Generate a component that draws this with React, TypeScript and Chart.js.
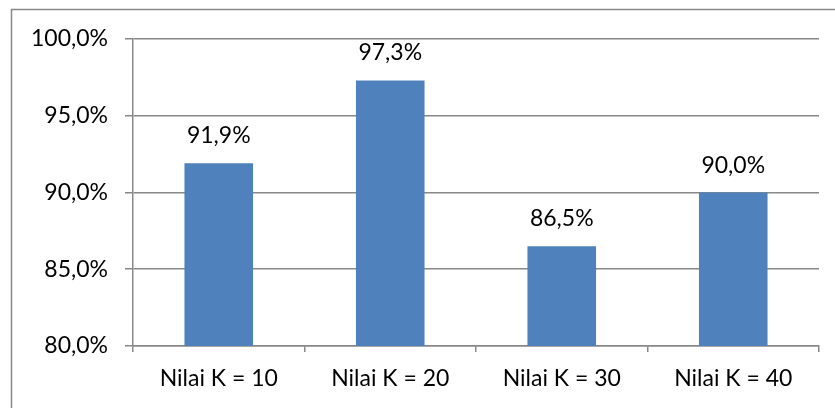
import React, { useEffect, useRef } from "react";
import { Chart, registerables } from "chart.js";

Chart.register(...registerables);

const categories = ["Nilai K = 10", "Nilai K = 20", "Nilai K = 30", "Nilai K = 40"];
const accuracy = [0.919, 0.973, 0.865, 0.9];
const yMin = 0.8;
const yMax = 1.0;
const yStep = 0.05;

const FONT = "Lato, 'Open Sans', sans-serif";
const FSIZE = 23;

const fmt = (v: number) => (v * 100).toFixed(1).replace(".", ",") + "%";

const frameAndLabels = {
  id: "frameAndLabels",
  beforeDraw(chart: any) {
    const ctx = chart.ctx;
    ctx.save();
    ctx.fillStyle = "#ffffff";
    ctx.fillRect(0, 0, chart.width, chart.height);
    ctx.strokeStyle = "#888888";
    ctx.lineWidth = 1.5;
    ctx.strokeRect(11.5, 9.5, chart.width + 20, chart.height + 20);
    ctx.restore();
  },
  afterDatasetsDraw(chart: any) {
    const ctx = chart.ctx;
    const meta = chart.getDatasetMeta(0);
    ctx.save();
    ctx.font = `${FSIZE}px ${FONT}`;
    ctx.fillStyle = "#000000";
    ctx.textAlign = "center";
    ctx.textBaseline = "alphabetic";
    meta.data.forEach((bar: any, i: number) => {
      ctx.fillText(fmt(accuracy[i]), bar.x, bar.y - 20);
    });
    ctx.restore();
  },
};

export default function App() {
  const ref = useRef<HTMLCanvasElement | null>(null);
  useEffect(() => {
    if (!ref.current) return;
    const chart = new Chart(ref.current, {
      type: "bar",
      data: {
        labels: categories,
        datasets: [
          {
            data: accuracy,
            backgroundColor: "#4F81BD",
            borderWidth: 0,
            categoryPercentage: 1,
            barPercentage: 0.4,
          },
        ],
      },
      options: {
        animation: false,
        responsive: false,
        maintainAspectRatio: false,
        layout: { padding: { left: 0, right: 16, top: 39, bottom: 0 } },
        plugins: { legend: { display: false }, tooltip: { enabled: false } },
        scales: {
          x: {
            grid: {
              offset: true,
              drawOnChartArea: false,
              tickLength: 6,
              color: "#888888",
              lineWidth: 1.5,
            },
            border: { color: "#888888", width: 1.5 },
            ticks: {
              font: { family: FONT, size: FSIZE },
              color: "#000000",
              padding: 13,
              maxRotation: 0,
            },
            afterFit(scale: any) {
              scale.height = 62;
            },
          },
          y: {
            min: yMin,
            max: yMax,
            grid: { color: "#888888", lineWidth: 1.5, tickLength: 8 },
            border: { color: "#888888", width: 1.5 },
            ticks: {
              stepSize: yStep,
              font: { family: FONT, size: FSIZE },
              color: "#000000",
              padding: 17,
              callback: (v: any) => fmt(Number(v)),
            },
            afterFit(scale: any) {
              scale.width = 133;
            },
          },
        },
      },
      plugins: [frameAndLabels],
    });
    return () => chart.destroy();
  }, []);
  return (
    <div style={{ position: "absolute", left: 0, top: 0, width: 835, height: 408 }}>
      <canvas ref={ref} width={835} height={408} style={{ display: "block" }} />
    </div>
  );
}
